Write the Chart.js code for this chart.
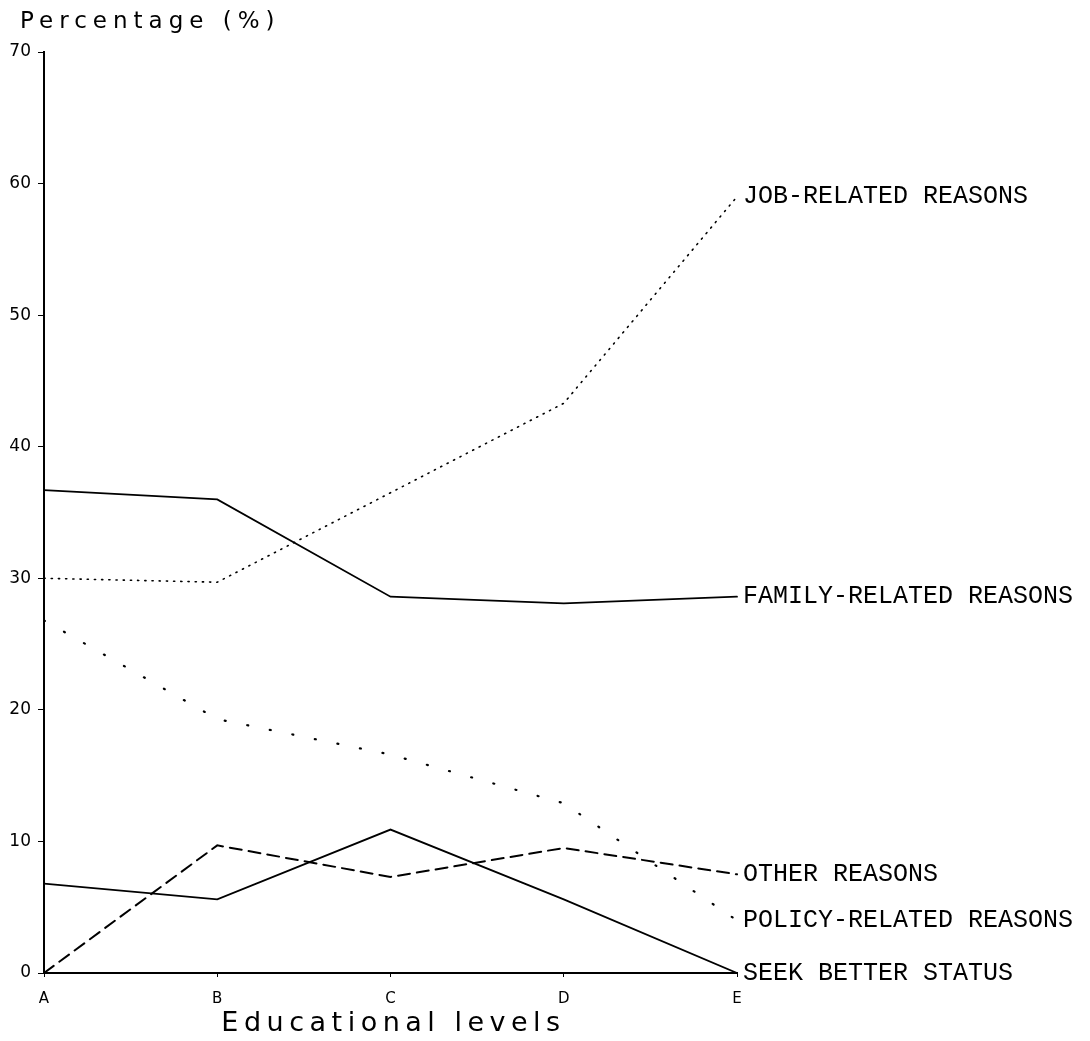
<!DOCTYPE html>
<html>
<head>
<meta charset="utf-8">
<title>Percentage by educational level</title>
<script src="https://cdn.jsdelivr.net/npm/chart.js@4.4.1/dist/chart.umd.min.js"></script>
<style>
  html, body { margin: 0; padding: 0; background: #fff; }
  canvas { display: block; }
</style>
</head>
<body>
<canvas id="chart" width="1090" height="1041"></canvas>
<script>
// values (percent)
const levels = ["A", "B", "C", "D", "E"];
const jobRelated = [30.0, 29.7, 36.5, 43.3, 59.0];
const familyRelated = [36.7, 36.0, 28.6, 28.1, 28.6];
const policyRelated = [26.8, 19.3, 16.6, 12.9, 4.0];
const otherReasons = [0.0, 9.7, 7.3, 9.5, 7.5];
const seekBetterStatus = [6.8, 5.6, 10.9, 5.6, 0.0];

const yMin = 0;
const yMax = 70;
const yStep = 10;

const seriesNames = [
  "JOB-RELATED REASONS",
  "FAMILY-RELATED REASONS",
  "POLICY-RELATED REASONS",
  "OTHER REASONS",
  "SEEK BETTER STATUS",
];

const axisTitleY = "Percentage (%)";
const axisTitleX = "Educational levels";

function line(label, values, width, dash) {
  return {
    label: label,
    data: values,
    borderColor: "#000",
    backgroundColor: "#000",
    borderWidth: width,
    borderDash: dash,
    borderCapStyle: "round",
    pointRadius: 0,
    tension: 0,
    fill: false,
  };
}

let data = {
  labels: levels,
  datasets: [
    line(seriesNames[0], jobRelated, 1.6, [1.2, 6]),
    line(seriesNames[1], familyRelated, 1.8, []),
    line(seriesNames[2], policyRelated, 2.2, [1, 22]),
    line(seriesNames[3], otherReasons, 2, [12, 7]),
    line(seriesNames[4], seekBetterStatus, 1.8, []),
  ],
};

// labels at the end of each line + axis titles
const textPlugin = {
  id: "plotText",
  afterDatasetsDraw(chart) {
    const ctx = chart.ctx;
    const area = chart.chartArea;
    ctx.save();
    ctx.fillStyle = "#000";
    ctx.textBaseline = "middle";
    ctx.textAlign = "left";
    ctx.font = "25px 'Liberation Mono'";
    ctx.letterSpacing = "0px";
    chart.data.datasets.forEach((ds, i) => {
      const pts = chart.getDatasetMeta(i).data;
      const last = pts[pts.length - 1];
      ctx.fillText(ds.label, last.x + 6, last.y);
    });

    ctx.font = "23px 'DejaVu Sans'";
    ctx.letterSpacing = "6px";
    ctx.fillText(axisTitleY, 20, 22);

    ctx.font = "27px 'DejaVu Sans'";
    ctx.letterSpacing = "5.5px";
    ctx.textAlign = "center";
    ctx.fillText(axisTitleX, (area.left + area.right) / 2 + 3, 1024);
    ctx.restore();
  },
};

let config = {
  type: "line",
  data: data,
  options: {
    responsive: false,
    animation: false,
    devicePixelRatio: 1,
    layout: {
      padding: { left: 0, right: 353, top: 52, bottom: 0 },
    },
    plugins: {
      legend: { display: false },
      tooltip: { enabled: false },
    },
    scales: {
      x: {
        type: "category",
        offset: false,
        afterFit: (scale) => { scale.height = 68; },
        grid: {
          drawOnChartArea: false,
          drawTicks: true,
          tickLength: 4,
          color: "#000",
        },
        border: { display: true, color: "#000", width: 2 },
        ticks: {
          color: "#000",
          font: { family: "DejaVu Sans", size: 15 },
          padding: 13,
          maxRotation: 0,
        },
      },
      y: {
        min: yMin,
        max: yMax,
        afterFit: (scale) => { scale.width = 44; },
        grid: {
          drawOnChartArea: false,
          drawTicks: true,
          tickLength: 6,
          color: "#000",
        },
        border: { display: true, color: "#000", width: 2 },
        ticks: {
          stepSize: yStep,
          color: "#000",
          font: { family: "DejaVu Sans", size: 17 },
          padding: 7,
        },
      },
    },
  },
  plugins: [textPlugin],
};

const canvas = document.getElementById("chart").getContext("2d");
const chart = new Chart(canvas, config);
</script>
</body>
</html>
